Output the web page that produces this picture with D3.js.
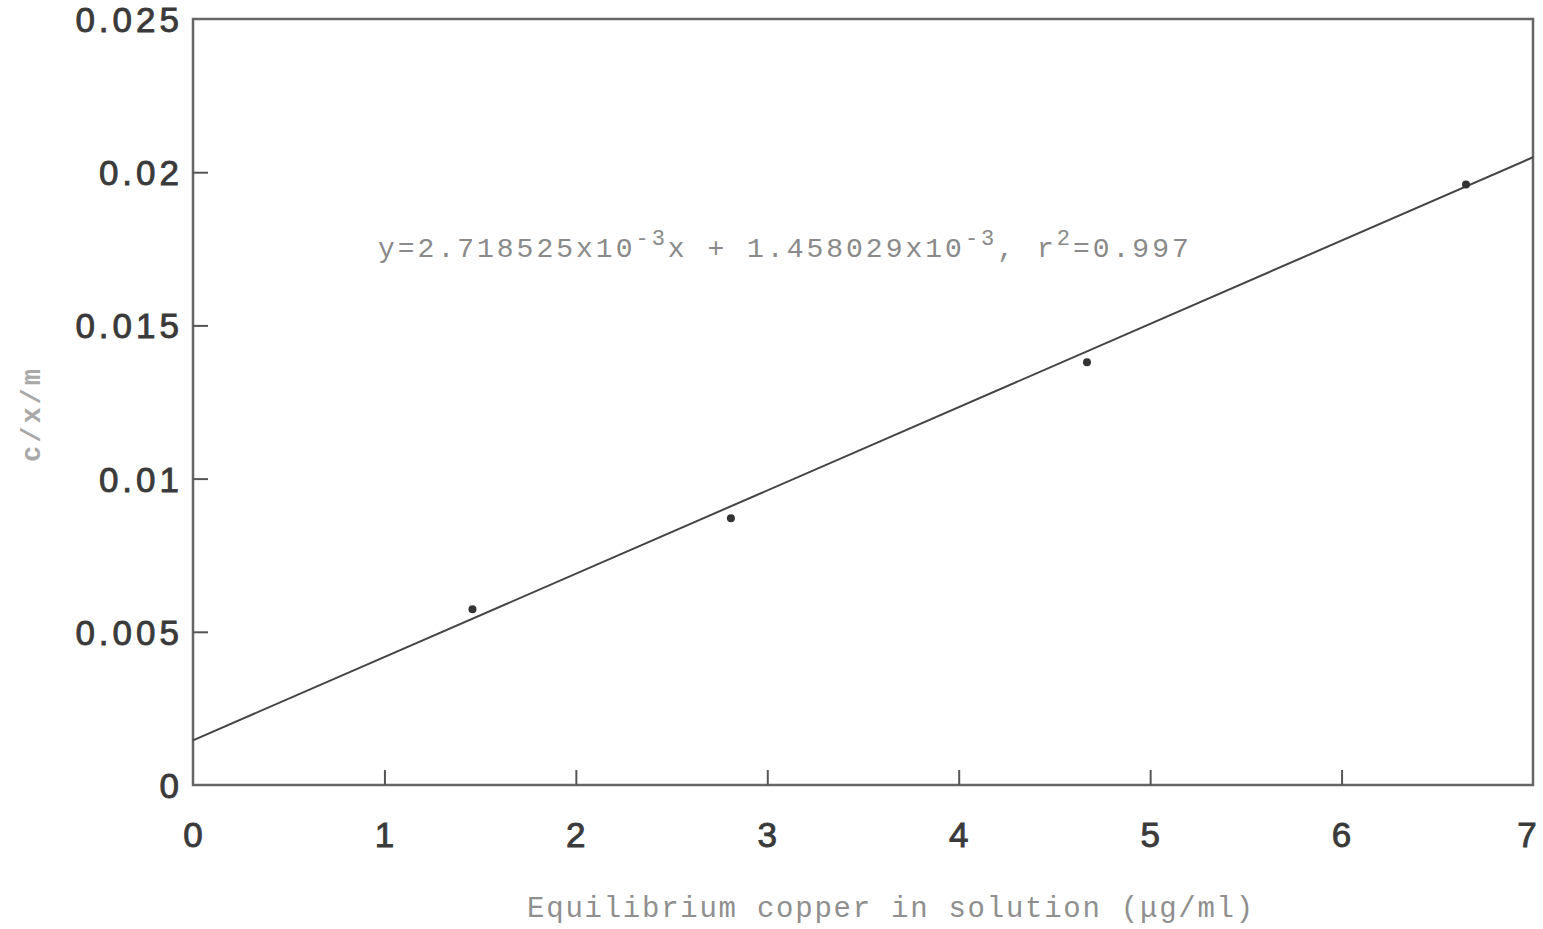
<!DOCTYPE html>
<html>
<head>
<meta charset="utf-8">
<script src="https://cdn.jsdelivr.net/npm/d3@7"></script>
<style>
  html, body { margin: 0; padding: 0; background: #fff; }
  svg { display: block; }
</style>
</head>
<body>
<svg id="chart" width="1543" height="929"></svg>
<script>
// data
const xValues = [1.46, 2.81, 4.67, 6.65];
const yValues = [0.00574, 0.00871, 0.0138, 0.0196];
const xTicks = [0, 1, 2, 3, 4, 5, 6, 7];
const yTicks = [0, 0.005, 0.01, 0.015, 0.02, 0.025];
const yTickLabels = ["0", "0.005", "0.01", "0.015", "0.02", "0.025"];
const slope = 2.718525e-3;
const intercept = 1.458029e-3;

const svg = d3.select("#chart");
const margin = { left: 193, top: 19, right: 10, bottom: 144 };
const W = 1543, H = 929;
const x = d3.scaleLinear().domain([0, 7]).range([margin.left, W - margin.right]);
const y = d3.scaleLinear().domain([0, 0.025]).range([H - margin.bottom, margin.top]);

const ink = "#3a3a3a";

// frame
svg.append("rect")
  .attr("x", x(0)).attr("y", y(0.025))
  .attr("width", x(7) - x(0)).attr("height", y(0) - y(0.025))
  .attr("fill", "none").attr("stroke", "#666").attr("stroke-width", 2.5);

// inward ticks
const xAxis = d3.axisBottom(x).tickValues(xTicks.slice(1, -1)).tickSizeInner(-15).tickSizeOuter(0).tickFormat("");
svg.append("g").attr("transform", `translate(0,${y(0)})`).call(xAxis)
  .call(g => g.select(".domain").remove())
  .call(g => g.selectAll("line").attr("stroke", "#555").attr("stroke-width", 2));

const yAxis = d3.axisLeft(y).tickValues(yTicks.slice(1, -1)).tickSizeInner(-15).tickSizeOuter(0).tickFormat("");
svg.append("g").attr("transform", `translate(${x(0)},0)`).call(yAxis)
  .call(g => g.select(".domain").remove())
  .call(g => g.selectAll("line").attr("stroke", "#555").attr("stroke-width", 2));

// tick labels
const lab = svg.append("g")
  .attr("font-family", "'Liberation Sans', Arial, sans-serif")
  .attr("font-size", 35).attr("fill", ink)
  .attr("stroke", ink).attr("stroke-width", 0.9)
  .attr("letter-spacing", 4);

lab.selectAll("text.xl").data(xTicks).enter().append("text")
  .attr("class", "xl")
  .attr("x", d => Math.min(x(d) + 2, W - 14)).attr("y", y(0) + 62)
  .attr("text-anchor", "middle").text(d => d);

lab.selectAll("text.yl").data(yTicks).enter().append("text")
  .attr("class", "yl")
  .attr("x", x(0) - 10).attr("y", (d, i) => y(d) + 13)
  .attr("text-anchor", "end").text((d, i) => yTickLabels[i]);

// fitted line
svg.append("line")
  .attr("x1", x(0)).attr("y1", y(intercept))
  .attr("x2", x(7)).attr("y2", y(slope * 7 + intercept))
  .attr("stroke", "#444").attr("stroke-width", 2);

// measured points
svg.append("g").selectAll("circle").data(xValues).enter().append("circle")
  .attr("cx", d => x(d)).attr("cy", (d, i) => y(yValues[i]))
  .attr("r", 4).attr("fill", "#333");

// equation annotation (typewriter style)
const mono = "'Liberation Mono', 'DejaVu Sans Mono', monospace";
const eq = svg.append("text")
  .attr("x", 378).attr("y", 257)
  .attr("font-family", mono).attr("font-size", 28)
  .attr("letter-spacing", 3.0).attr("fill", "#8a8a8a");
eq.append("tspan").text("y=2.718525x10");
eq.append("tspan").attr("dy", -12).attr("font-size", 22).text("-3");
eq.append("tspan").attr("dy", 12).text("x + 1.458029x10");
eq.append("tspan").attr("dy", -12).attr("font-size", 22).text("-3");
eq.append("tspan").attr("dy", 12).text(", r");
eq.append("tspan").attr("dy", -12).attr("font-size", 22).text("2");
eq.append("tspan").attr("dy", 12).text("=0.997");

// axis titles
svg.append("text")
  .attr("x", 891).attr("y", 917)
  .attr("text-anchor", "middle")
  .attr("font-family", mono).attr("font-size", 29)
  .attr("letter-spacing", 1.75).attr("fill", "#8f8f8f")
  .text("Equilibrium copper in solution (\u03bcg/ml)");

svg.append("text")
  .attr("transform", "translate(40,414) rotate(-90)")
  .attr("text-anchor", "middle")
  .attr("font-family", mono).attr("font-size", 27).attr("font-weight", "bold")
  .attr("letter-spacing", 3).attr("fill", "#a8a8a8")
  .text("c/x/m");
</script>
</body>
</html>
